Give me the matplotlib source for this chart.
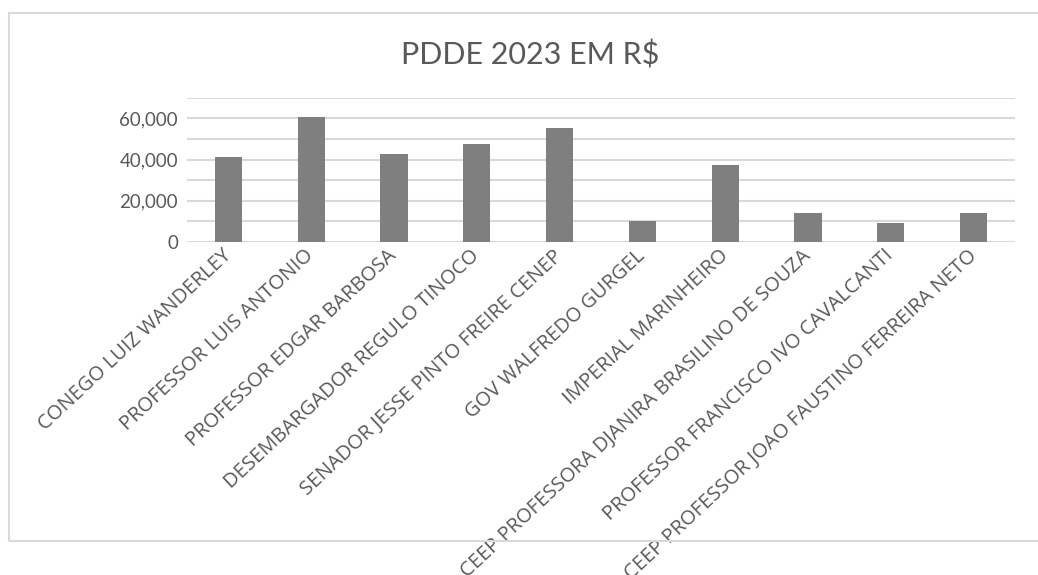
import matplotlib.pyplot as plt
from matplotlib.patches import Rectangle
from matplotlib.ticker import MultipleLocator, StrMethodFormatter

escolas = [
    "CONEGO LUIZ WANDERLEY",
    "PROFESSOR LUIS ANTONIO",
    "PROFESSOR EDGAR BARBOSA",
    "DESEMBARGADOR REGULO TINOCO",
    "SENADOR JESSE PINTO FREIRE CENEP",
    "GOV WALFREDO GURGEL",
    "IMPERIAL MARINHEIRO",
    "CEEP PROFESSORA DJANIRA BRASILINO DE SOUZA",
    "PROFESSOR FRANCISCO IVO CAVALCANTI",
    "CEEP PROFESSOR JOAO FAUSTINO FERREIRA NETO",
]
valores = [41400, 60800, 42800, 47700, 55500, 10200, 37500, 14100, 9200, 14100]

W, H = 1038, 575
fig = plt.figure(figsize=(W / 100, H / 100), dpi=100)
ax = fig.add_axes([187 / W, 1 - 242 / H, (1015 - 187) / W, (242 - 97.7) / H])

x = range(len(escolas))
ax.bar(x, valores, width=0.33, color="#7f7f7f", zorder=3)

ax.set_xlim(-0.5, len(escolas) - 0.5)
ax.set_ylim(0, 70000)
ax.yaxis.set_major_locator(MultipleLocator(20000))
ax.yaxis.set_minor_locator(MultipleLocator(10000))
ax.yaxis.set_major_formatter(StrMethodFormatter("{x:,.0f}"))
ax.grid(axis="y", which="both", color="#d9d9d9", linewidth=1.5, zorder=0)
ax.set_axisbelow(True)
for s in ax.spines.values():
    s.set_visible(False)
ax.tick_params(axis="both", which="both", length=0)
ax.tick_params(axis="y", pad=6.5, labelsize=13.5, labelcolor="#595959")
for t in ax.get_yticklabels():
    t.set_fontfamily("Lato")

ax.set_xticks(list(x))
ax.set_xticklabels(escolas, rotation=43, ha="right", va="center",
                   rotation_mode="anchor", fontsize=14.5, color="#595959",
                   fontfamily="Open Sans")
ax.tick_params(axis="x", pad=8)

fig.text(530 / W, 1 - 65 / H, "PDDE 2023 EM R$", ha="center", va="baseline",
         fontsize=22, color="#595959", fontfamily="Lato")

fig.patches.append(Rectangle((8.5 / W, 1 - 540.5 / H), (1045 - 8.5) / W,
                             (540.5 - 12.5) / H, transform=fig.transFigure,
                             fill=False, edgecolor="#d9d9d9", linewidth=1.5))

fig.savefig("out.png", dpi=100)
